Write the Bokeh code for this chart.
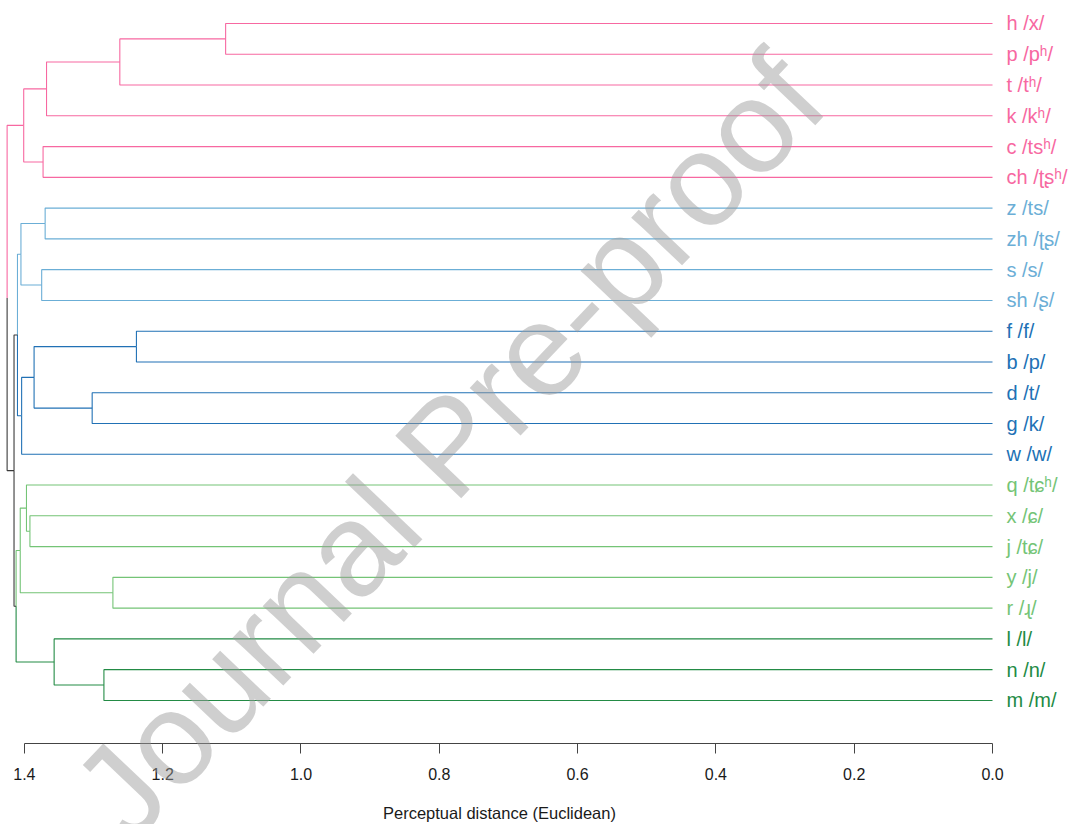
import math
from bokeh.plotting import figure
from bokeh.models import ColumnDataSource, Range1d, LinearAxis, FixedTicker, PrintfTickFormatter, Label
from bokeh.core.properties import value
from bokeh.embed import file_html
from bokeh.resources import INLINE

# ---------------- data ----------------
leaves = ["h", "p", "t", "k", "c", "ch", "z", "zh", "s", "sh", "f", "b", "d", "g", "w",
          "q", "x", "j", "y", "r", "l", "n", "m"]
ipa = ["x", "pʰ", "tʰ", "kʰ", "tsʰ", "ʈʂʰ", "ts", "ʈʂ", "s", "ʂ", "f", "p", "t", "k", "w",
       "tɕʰ", "ɕ", "tɕ", "j", "ɻ", "l", "n", "m"]
leaf_group = ["pink"] * 6 + ["lightblue"] * 4 + ["blue"] * 5 + ["lightgreen"] * 5 + ["darkgreen"] * 3
group_colors = {"pink": "#F768A1", "lightblue": "#6BAED6", "blue": "#2171B5",
                "lightgreen": "#74C476", "darkgreen": "#238B45"}
root_color = "#3A3A3A"

merge_names = ["hp", "hpt", "hptk", "cch", "pink", "zzh", "ssh", "lb", "fb", "dg", "fbdg", "db",
               "blue", "xj", "qxj", "yr", "lg", "nm", "lnm", "green", "bg", "root"]
merge_left = ["h", "hp", "hpt", "c", "hptk", "z", "s", "zzh", "f", "d", "fb", "fbdg",
              "lb", "x", "q", "y", "qxj", "n", "l", "lg", "blue", "pink"]
merge_right = ["p", "t", "k", "ch", "cch", "zh", "sh", "ssh", "b", "g", "dg", "w",
               "db", "j", "xj", "r", "yr", "m", "nm", "lnm", "green", "bg"]
merge_height = [1.109, 1.262, 1.368, 1.373, 1.401, 1.370, 1.375, 1.405, 1.238, 1.302, 1.386, 1.404,
                1.410, 1.392, 1.397, 1.272, 1.406, 1.285, 1.357, 1.412, 1.415, 1.425]

tick_values = [0.0, 0.2, 0.4, 0.6, 0.8, 1.0, 1.2, 1.4]
x_title = "Perceptual distance (Euclidean)"
watermark = "Journal Pre-proof"

# ---------------- layout computation ----------------
pos = {}      # name -> (height, y)
members = {}  # name -> set of groups
for i, name in enumerate(leaves):
    pos[name] = (0.0, float(i))
    members[name] = {leaf_group[i]}
for name, a, b, h in zip(merge_names, merge_left, merge_right, merge_height):
    pos[name] = (h, (pos[a][1] + pos[b][1]) / 2.0)
    members[name] = members[a] | members[b]


def color_of(name):
    g = members[name]
    return group_colors[next(iter(g))] if len(g) == 1 else root_color


xs, ys, cs = [], [], []
for name, a, b in zip(merge_names, merge_left, merge_right):
    hx, hy = pos[name]
    for child in (a, b):
        cx, cy = pos[child]
        xs.append([hx, hx, cx])
        ys.append([hy, cy, cy])
        cs.append(color_of(child))

seg_src = ColumnDataSource(dict(xs=xs, ys=ys, color=cs))
lab_src = ColumnDataSource(dict(
    x=[-0.0202] * len(leaves),
    y=[float(i) for i in range(len(leaves))],
    text=[f"{l} /{s}/" for l, s in zip(leaves, ipa)],
    color=[group_colors[g] for g in leaf_group],
))

# ---------------- figure ----------------
# the plotting frame covers the whole canvas; the axis is pinned inside it
p = figure(width=1084, height=824,
           x_range=Range1d(1.43456, -0.13304), y_range=Range1d(26.032, -0.74748),
           output_backend="svg", toolbar_location=None,
           x_axis_location=None, y_axis_location=None,
           min_border_left=0, min_border_right=0, min_border_top=0, min_border_bottom=0)
p.outline_line_color = None
p.xgrid.grid_line_color = None
p.ygrid.grid_line_color = None
p.background_fill_color = "white"
p.border_fill_color = "white"

p.multi_line(xs="xs", ys="ys", line_color="color", line_width=1.1, source=seg_src)
p.text(x="x", y="y", text="text", text_color="color", source=lab_src,
       text_font=value("Liberation Sans"), text_font_size="20px",
       text_align="left", text_baseline="middle")

ax = LinearAxis(ticker=FixedTicker(ticks=tick_values),
                formatter=PrintfTickFormatter(format="%.1f"),
                bounds=(0.0, 1.4), fixed_location=23.3994)
ax.axis_line_color = "#444444"
ax.axis_line_width = 1
ax.major_tick_line_color = "#444444"
ax.major_tick_out = 10
ax.major_tick_in = 0
ax.minor_tick_line_color = None
ax.major_label_text_font = "Liberation Sans"
ax.major_label_text_font_size = "16px"
ax.major_label_text_color = "#1a1a1a"
ax.major_label_standoff = 15
p.add_layout(ax, "below")

# axis title centred under the drawn axis span (0.0 .. 1.4)
title = Label(x=0.713, y=25.67, text=x_title,
              text_font="Liberation Sans", text_font_size="16.5px",
              text_color="#1a1a1a", text_align="center", text_baseline="middle")
p.add_layout(title)

wm = Label(x=0.7867, y=13.715, text=watermark, angle=math.radians(46.5),
           text_font="Liberation Sans", text_font_size="132px",
           text_color="#9A9A9A", text_alpha=0.48,
           text_align="center", text_baseline="alphabetic")
p.add_layout(wm)

open("out.html", "w").write(file_html(p, INLINE))
